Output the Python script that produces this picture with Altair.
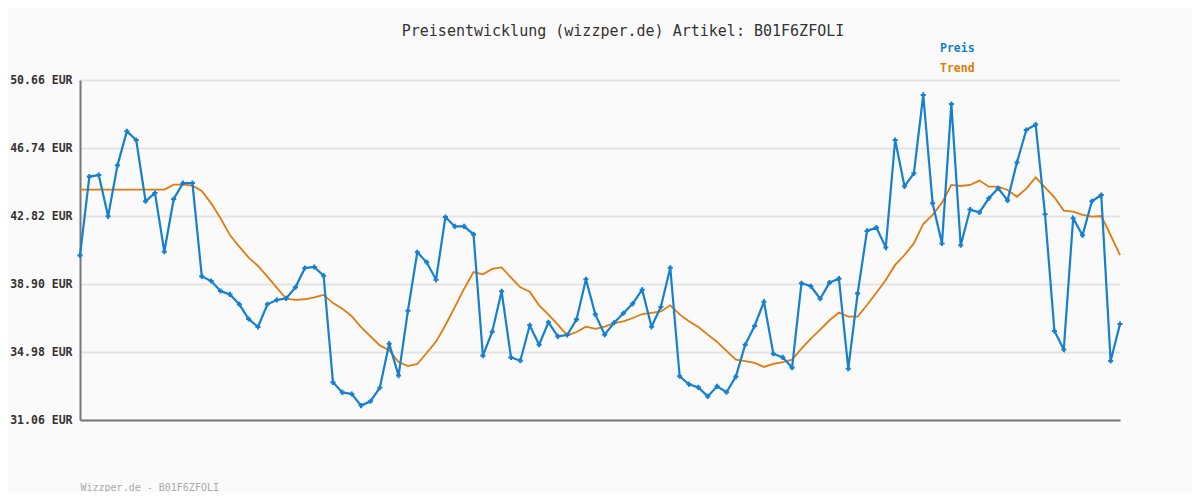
import altair as alt
import pandas as pd

preis = [40.55, 45.09, 45.18, 42.80, 45.74, 47.70, 47.20, 43.67, 44.15, 40.76,
         43.80, 44.72, 44.72, 39.34, 39.07, 38.50, 38.30, 37.73, 36.88, 36.42,
         37.73, 37.98, 38.07, 38.71, 39.82, 39.88, 39.38, 33.23, 32.65, 32.56,
         31.89, 32.14, 32.92, 35.46, 33.62, 37.36, 40.73, 40.15, 39.15, 42.76,
         42.22, 42.22, 41.76, 34.77, 36.15, 38.48, 34.67, 34.48, 36.52, 35.40,
         36.69, 35.88, 35.96, 36.86, 39.17, 37.15, 35.98, 36.67, 37.21, 37.77,
         38.57, 36.44, 37.59, 39.84, 33.58, 33.12, 32.94, 32.42, 33.00, 32.66,
         33.56, 35.40, 36.48, 37.88, 34.88, 34.67, 34.08, 38.94, 38.77, 38.05,
         38.98, 39.21, 34.02, 38.36, 41.96, 42.15, 41.01, 47.20, 44.53, 45.28,
         49.80, 43.55, 41.24, 49.28, 41.13, 43.19, 43.03, 43.84, 44.42, 43.72,
         45.91, 47.78, 48.09, 42.92, 36.19, 35.13, 42.69, 41.71, 43.67, 44.03,
         34.46, 36.59]

trend = [44.34, 44.34, 44.34, 44.34, 44.34, 44.34, 44.34, 44.34, 44.34, 44.34,
         44.63, 44.63, 44.57, 44.26, 43.55, 42.69, 41.72, 41.05, 40.42, 39.94,
         39.32, 38.69, 38.05, 37.98, 38.02, 38.13, 38.27, 37.80, 37.48, 37.04,
         36.42, 35.88, 35.36, 35.08, 34.40, 34.17, 34.29, 34.92, 35.58, 36.52,
         37.57, 38.63, 39.59, 39.46, 39.77, 39.86, 39.27, 38.71, 38.46, 37.67,
         37.13, 36.56, 35.94, 36.13, 36.44, 36.31, 36.44, 36.65, 36.75, 36.94,
         37.17, 37.23, 37.32, 37.67, 37.15, 36.75, 36.42, 35.98, 35.56, 35.04,
         34.54, 34.46, 34.35, 34.12, 34.29, 34.40, 34.54, 35.17, 35.75, 36.27,
         36.81, 37.26, 37.02, 37.02, 37.69, 38.40, 39.13, 40.00, 40.57, 41.24,
         42.36, 42.88, 43.59, 44.61, 44.55, 44.61, 44.86, 44.51, 44.51, 44.32,
         43.93, 44.40, 45.05, 44.47, 43.90, 43.13, 43.07, 42.88, 42.78, 42.82,
         41.71, 40.57]

y_ticks = [31.06, 34.98, 38.90, 42.82, 46.74, 50.66]
series_names = ["Preis", "Trend"]
series_colors = ["#1580cf", "#e07b0c"]
title_text = "Preisentwicklung (wizzper.de) Artikel: B01F6ZFOLI"
footer_text = "Wizzper.de - B01F6ZFOLI"

MONO = "DejaVu Sans Mono"

rows = []
for i, v in enumerate(preis):
    rows.append({"idx": i, "wert": v, "serie": "Preis"})
for i, v in enumerate(trend):
    rows.append({"idx": i, "wert": v, "serie": "Trend"})
df = pd.DataFrame(rows)

xscale = alt.Scale(domain=[0, len(preis) - 1], nice=False, zero=False)
yscale = alt.Scale(domain=[y_ticks[0], y_ticks[-1]], nice=False, zero=False)
cscale = alt.Scale(domain=series_names, range=series_colors)

xaxis = alt.Axis(
    title=footer_text, labels=False, ticks=False, grid=False,
    domainColor="#777777", domainWidth=2,
    titleFont=MONO, titleFontSize=10, titleFontWeight="normal", titleColor="#aaaaaa",
    titleAnchor="start", titleAlign="left", titleX=0, titleY=67, titleBaseline="middle",
)
yaxis = alt.Axis(
    title=None, values=y_ticks, ticks=False, grid=True,
    gridColor="#e4e4e4", gridWidth=2,
    domainColor="#777777", domainWidth=2,
    labelExpr="format(datum.value, '.2f') + ' EUR'",
    labelFont=MONO, labelFontSize=11.5, labelFontWeight="bold", labelColor="#333333",
    labelPadding=8,
)

base = alt.Chart(df).encode(
    x=alt.X("idx:Q", scale=xscale, axis=xaxis),
    y=alt.Y("wert:Q", scale=yscale, axis=yaxis),
    color=alt.Color("serie:N", scale=cscale, legend=None),
)

trend_line = base.transform_filter(alt.datum.serie == "Trend").mark_line(strokeWidth=1.8)
preis_line = base.transform_filter(alt.datum.serie == "Preis").mark_line(strokeWidth=2.2)
preis_pts = base.transform_filter(alt.datum.serie == "Preis").mark_point(
    shape="cross", filled=True, size=26, opacity=1
)

leg_preis = alt.Chart(pd.DataFrame({"t": [series_names[0]]})).mark_text(
    font=MONO, fontSize=11.5, fontWeight="bold", align="left", baseline="middle",
    color=series_colors[0],
).encode(text="t:N", x=alt.value(860), y=alt.value(-31))
leg_trend = alt.Chart(pd.DataFrame({"t": [series_names[1]]})).mark_text(
    font=MONO, fontSize=11.5, fontWeight="bold", align="left", baseline="middle",
    color=series_colors[1],
).encode(text="t:N", x=alt.value(860), y=alt.value(-11))

chart = alt.layer(trend_line, preis_line, preis_pts, leg_preis, leg_trend).properties(
    width=1040, height=340,
    title=alt.TitleParams(
        text=title_text, font=MONO, fontSize=15, fontWeight="normal",
        color="#333333", anchor="middle", dx=23, offset=4,
    ),
    autosize=alt.AutoSizeParams(type="none"),
    padding={"left": 72, "top": 72, "right": 72, "bottom": 72},
    background="#fafafa",
).configure_view(stroke=None)

chart.save("out.html", embed_options={"renderer": "svg", "actions": False})
